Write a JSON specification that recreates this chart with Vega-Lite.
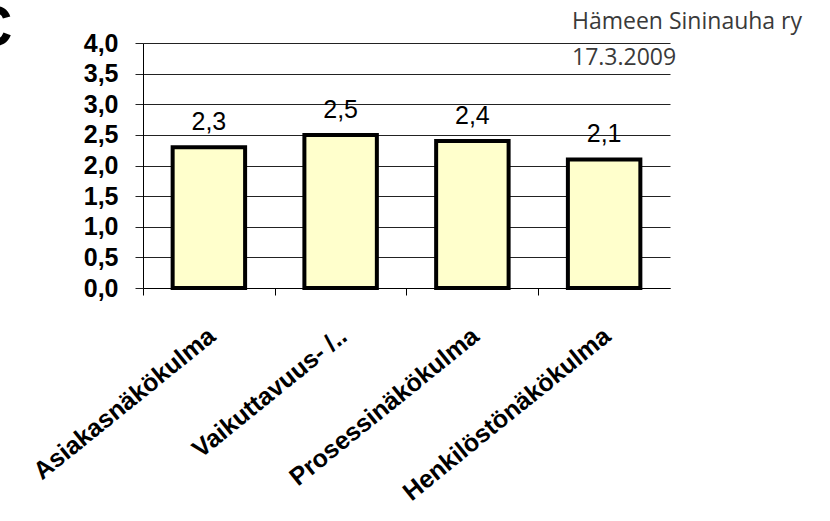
{
  "$schema": "https://vega.github.io/schema/vega-lite/v6.json",
  "width": 527,
  "height": 245,
  "autosize": {"type": "none"},
  "padding": {"left": 143, "top": 43, "right": 160, "bottom": 233},
  "background": "white",
  "title": {
    "text": ["Hämeen Sininauha ry", "17.3.2009"],
    "orient": "top",
    "anchor": "start",
    "frame": "group",
    "align": "left",
    "baseline": "top",
    "dx": 429,
    "offset": -71,
    "font": "Open Sans",
    "fontSize": 23,
    "fontWeight": "normal",
    "color": "#3a3a3a",
    "lineHeight": 36
  },
  "data": {
    "values": [
      {"kulma": "Asiakasnäkökulma", "arvo": 2.3},
      {"kulma": "Vaikuttavuus- /..", "arvo": 2.5},
      {"kulma": "Prosessinäkökulma", "arvo": 2.4},
      {"kulma": "Henkilöstönäkökulma", "arvo": 2.1}
    ]
  },
  "encoding": {
    "x": {
      "field": "kulma",
      "type": "nominal",
      "sort": null,
      "scale": {"paddingInner": 0.45, "paddingOuter": 0.225},
      "axis": {
        "title": null,
        "labelAngle": -39,
        "labelAlign": "right",
        "labelBaseline": "top",
        "labelFont": "Liberation Sans",
        "labelFontSize": 25,
        "labelFontWeight": "bold",
        "labelColor": "#000000",
        "labelPadding": 28,
        "labelOffset": 61,
        "tickOffset": -66,
        "tickSize": 7,
        "tickColor": "#000000",
        "domainColor": "#000000",
        "labelOverlap": false,
        "labelLimit": 0
      }
    },
    "y": {
      "field": "arvo",
      "type": "quantitative",
      "scale": {"domain": [0, 4], "nice": false},
      "axis": {
        "values": [0, 0.5, 1, 1.5, 2, 2.5, 3, 3.5, 4],
        "format": ".1f",
        "grid": true,
        "gridColor": "#222222",
        "gridWidth": 1,
        "gridOpacity": 1,
        "tickSize": 8,
        "tickColor": "#222222",
        "domainColor": "#000000",
        "labelFont": "Liberation Sans",
        "labelFontSize": 25,
        "labelFontWeight": "bold",
        "labelColor": "#000000",
        "labelPadding": 17,
        "title": "C",
        "titleAngle": 0,
        "titleX": -173,
        "titleY": 2,
        "titleAlign": "left",
        "titleBaseline": "alphabetic",
        "titleFont": "Liberation Sans",
        "titleFontSize": 58,
        "titleFontWeight": "bold",
        "titleColor": "#000000"
      }
    }
  },
  "layer": [
    {
      "mark": {"type": "bar", "fill": "#FFFFCC", "stroke": "#000000", "strokeWidth": 4}
    },
    {
      "mark": {
        "type": "text",
        "baseline": "alphabetic",
        "dy": -17,
        "font": "Liberation Sans",
        "fontSize": 25,
        "color": "#000000"
      },
      "encoding": {"text": {"field": "arvo", "type": "quantitative", "format": ".1f"}}
    }
  ],
  "config": {
    "locale": {
      "number": {"decimal": ",", "thousands": " ", "grouping": [3], "currency": ["", " €"]}
    },
    "view": {"stroke": null}
  }
}
